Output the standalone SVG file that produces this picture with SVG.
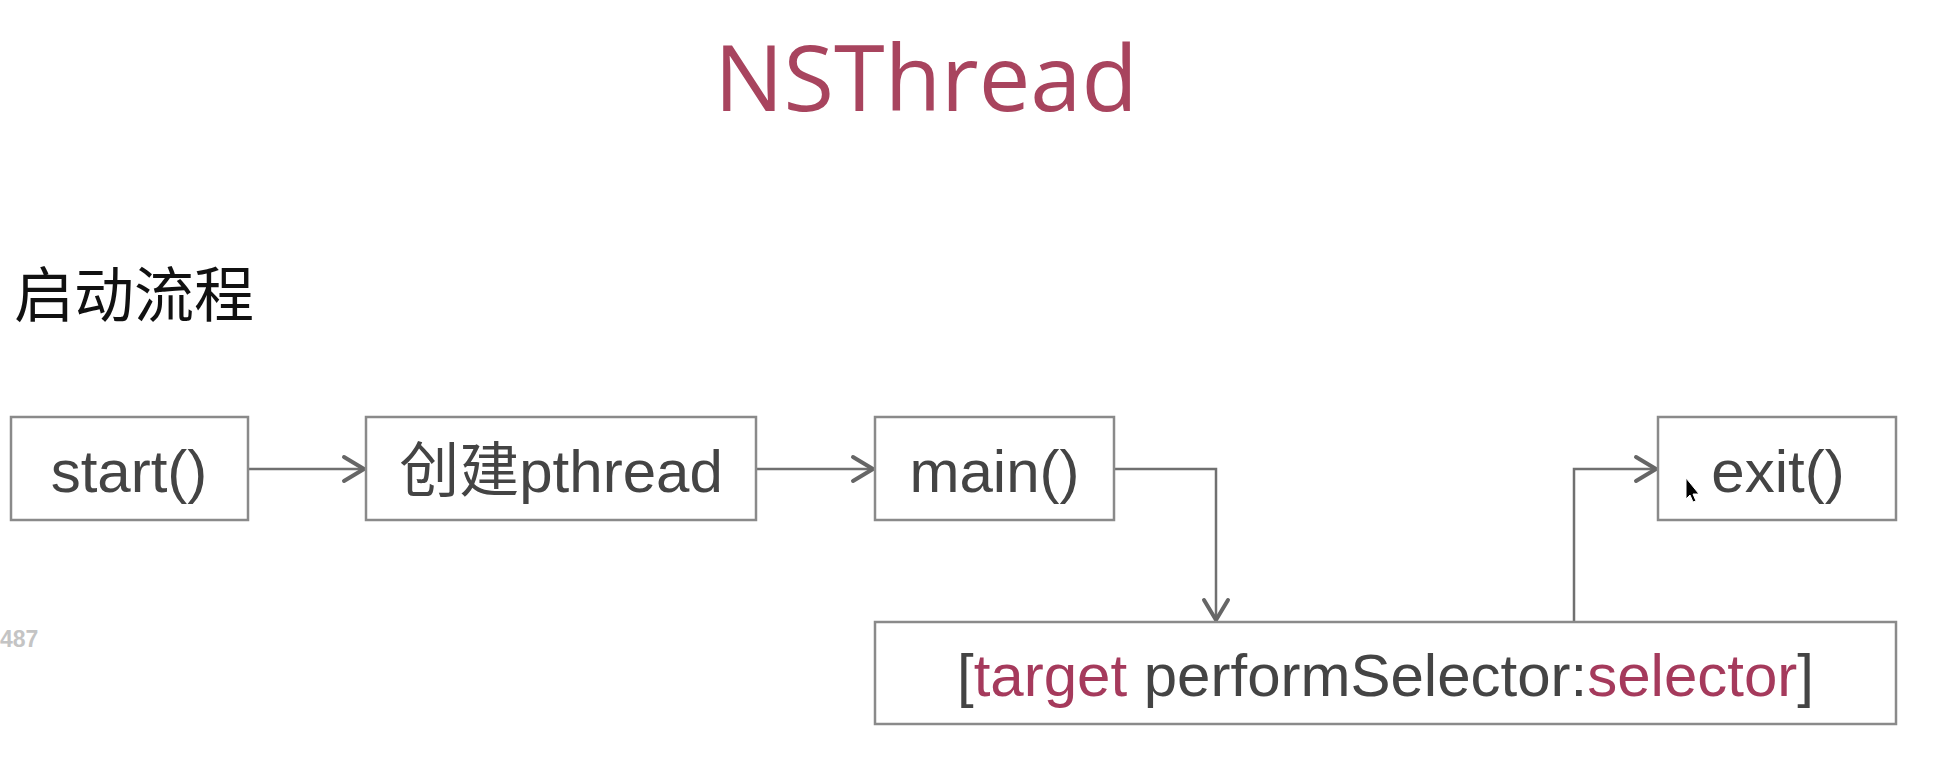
<svg xmlns="http://www.w3.org/2000/svg" width="1946" height="778" viewBox="0 0 1946 778">
<defs>
<style>
.box{fill:#fff;stroke:#8a8a8a;stroke-width:2.5}
.lbl{font-family:"Liberation Sans",Arial,"Noto Sans CJK SC",sans-serif;font-size:60px;fill:#444;text-anchor:middle}
.hl{fill:#a53a5c}
.conn{fill:none;stroke:#707070;stroke-width:2.5}
</style>
<marker id="arr" viewBox="0 0 26 30" refX="23" refY="15" markerWidth="26" markerHeight="30" markerUnits="userSpaceOnUse" orient="auto">
<path d="M3,3 L23,15 L3,27" fill="none" stroke="#666" stroke-width="4" stroke-linecap="round" stroke-linejoin="round"/>
</marker>
</defs>
<rect width="1946" height="778" fill="#fff"/>
<text x="926" y="111" font-family="'Open Sans','Noto Sans',sans-serif" font-size="92" fill="#a8445e" text-anchor="middle">NSThread</text>
<text x="14" y="317" font-family="'Noto Sans CJK SC',sans-serif" font-size="60" fill="#111">启动流程</text>
<text x="0" y="647" font-family="'Liberation Sans',Arial,sans-serif" font-size="23" font-weight="bold" fill="#c4c4c4">487</text>
<g id="connectors">
<path class="conn" d="M248,469 H364" marker-end="url(#arr)"/>
<path class="conn" d="M756,469 H873" marker-end="url(#arr)"/>
<path class="conn" d="M1114,469 H1216 V620" marker-end="url(#arr)"/>
<path class="conn" d="M1574,622 V469 H1656" marker-end="url(#arr)"/>
</g>
<g id="start">
<rect class="box" x="11" y="417" width="237" height="103"/>
<text class="lbl" x="129" y="492">start()</text>
</g>
<g id="create">
<rect class="box" x="366" y="417" width="390" height="103"/>
<text class="lbl" x="561" y="492">创建pthread</text>
</g>
<g id="main">
<rect class="box" x="875" y="417" width="239" height="103"/>
<text class="lbl" x="994.5" y="492">main()</text>
</g>
<g id="exit">
<rect class="box" x="1658" y="417" width="238" height="103"/>
<text class="lbl" x="1778" y="492">exit()</text>
</g>
<g id="perform">
<rect class="box" x="875" y="622" width="1021" height="102"/>
<text class="lbl" x="1385.5" y="696">[<tspan class="hl">target</tspan> performSelector:<tspan class="hl">selector</tspan>]</text>
</g>
<path d="M1686,478 L1686,499 L1690,495 L1693,502 L1696,501 L1693,494 L1699,494 Z" fill="#000" stroke="#fff" stroke-width="1"/>
</svg>
